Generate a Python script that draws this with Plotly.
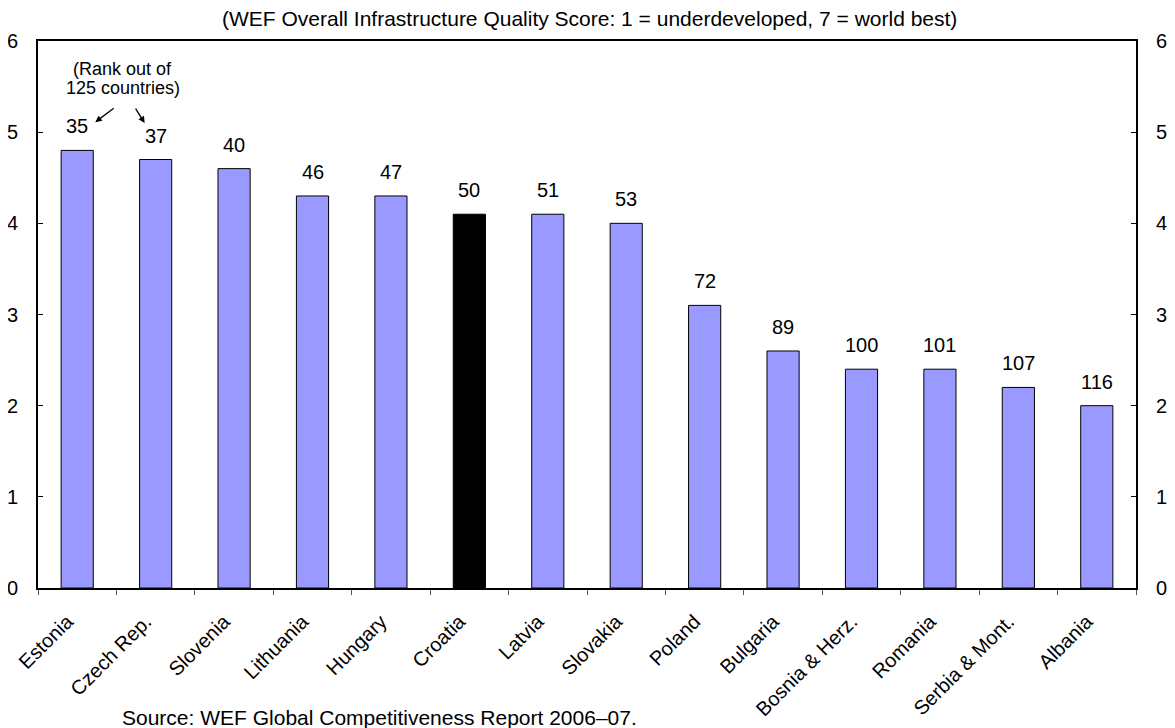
import plotly.graph_objects as go

# data
countries = ["Estonia", "Czech Rep.", "Slovenia", "Lithuania", "Hungary", "Croatia", "Latvia",
             "Slovakia", "Poland", "Bulgaria", "Bosnia & Herz.", "Romania", "Serbia & Mont.", "Albania"]
scores = [4.8, 4.7, 4.6, 4.3, 4.3, 4.1, 4.1, 4.0, 3.1, 2.6, 2.4, 2.4, 2.2, 2.0]
ranks = [35, 37, 40, 46, 47, 50, 51, 53, 72, 89, 100, 101, 107, 116]
highlight = "Croatia"

FONT = "Liberation Sans, Arial, sans-serif"
colors = ["#000000" if c == highlight else "#9999FF" for c in countries]

fig = go.Figure()
fig.add_trace(go.Bar(x=countries, y=scores, marker=dict(color=colors, line=dict(color="black", width=1)),
                     width=0.41, showlegend=False, hoverinfo="x+y"))
# invisible trace so the right axis gets drawn
fig.add_trace(go.Bar(x=countries, y=scores, yaxis="y2", width=0.41, opacity=0,
                     showlegend=False, hoverinfo="skip"))

# rank labels above the bars
for c, s, r in zip(countries, scores, ranks):
    fig.add_annotation(x=c, y=s, text=str(r), showarrow=False, yshift=24,
                       font=dict(size=20, color="black", family=FONT))

# note with arrows
fig.add_annotation(x=0.58, y=5.69, text="(Rank out of", showarrow=False,
                   font=dict(size=18, color="black", family=FONT))
fig.add_annotation(x=0.58, y=5.48, text="125 countries)", showarrow=False,
                   font=dict(size=18, color="black", family=FONT))
fig.add_annotation(x=0.23, y=5.11, ax=20, ay=-15, text="", showarrow=True,
                   arrowhead=2, arrowsize=1, arrowwidth=1.3, arrowcolor="black")
fig.add_annotation(x=0.86, y=5.10, ax=-10, ay=-16, text="", showarrow=True,
                   arrowhead=2, arrowsize=1, arrowwidth=1.3, arrowcolor="black")

fig.add_annotation(xref="paper", yref="paper", x=0.502, y=1.0, yanchor="middle", yshift=23,
                   text="(WEF Overall Infrastructure Quality Score: 1 = underdeveloped, 7 = world best)",
                   showarrow=False, font=dict(size=21, color="black", family=FONT))
fig.add_annotation(xref="paper", yref="paper", x=0.0747, y=0, yanchor="middle", yshift=-129,
                   xanchor="left",
                   text="Source: WEF Global Competitiveness Report 2006\u201307.", showarrow=False,
                   font=dict(size=21, color="black", family=FONT))

axis_common = dict(range=[0, 6], dtick=1, ticks="inside", ticklen=5, tickcolor="black",
                   showline=True, linecolor="black", linewidth=2, showgrid=False, zeroline=False,
                   automargin=False, ticklabelstandoff=14,
                   tickfont=dict(size=20, color="black", family=FONT))
fig.update_layout(
    width=1167, height=720,
    margin=dict(l=30, r=39, t=33, b=140),
    plot_bgcolor="white", paper_bgcolor="white",
    font=dict(family=FONT, color="black"),
    xaxis=dict(tickangle=-45, tickfont=dict(size=20, color="black", family=FONT),
               range=[-0.5, len(countries) - 0.5], automargin=False,
               showline=True, linecolor="black", linewidth=2, mirror=True,
               ticks="outside", ticklen=5, tickcolor="#555555", tickson="boundaries",
               ticklabelstandoff=12, ticklabelshift=-10, showgrid=False),
    yaxis=dict(side="left", **axis_common),
    yaxis2=dict(side="right", overlaying="y", **axis_common),
    barmode="overlay",
)

fig.write_html("out.html")
